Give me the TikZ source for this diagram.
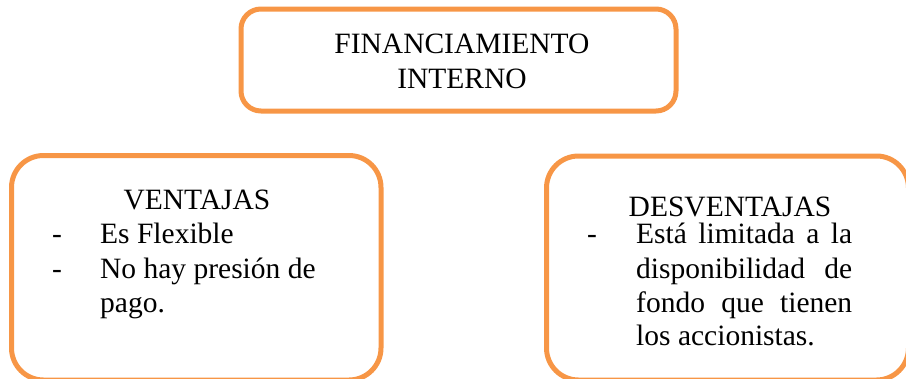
\documentclass[tikz,border=0pt]{standalone}
\usepackage{fontspec}
\setmainfont{Liberation Serif}
\definecolor{boxorange}{HTML}{F79646}
\begin{document}
\begin{tikzpicture}
  [x=1pt,y=-1pt,
   every node/.style={font=\fontsize{29.5}{34}\selectfont},
   box/.style={draw=boxorange,line width=5pt,rectangle,inner sep=0pt},
   txt/.style={inner sep=0pt,anchor=base west},
   head/.style={inner sep=0pt,anchor=base}]
  \useasboundingbox (0,0) rectangle (906,378);

  % boxes
  \node[box,rounded corners=20pt,minimum width=435pt,minimum height=102pt] (top) at (458.5,60) {};
  \node[box,rounded corners=32pt,minimum width=369.5pt,minimum height=224.5pt] (ventajas) at (196.25,267.75) {};
  \node[box,rounded corners=32pt,minimum width=362pt,minimum height=224pt] (desventajas) at (727.5,268) {};

  % title
  \node[head] (t1) at (462,53) {FINANCIAMIENTO};
  \node[head] (t2) at (462,88) {INTERNO};

  % ventajas
  \node[head] (vh) at (197,209) {VENTAJAS};
  \node[txt] (vd1) at (52,243) {-};
  \node[txt] (v1) at (100,243) {Es Flexible};
  \node[txt] (vd2) at (52,278) {-};
  \node[txt] (v2) at (100,278) {No hay presión de};
  \node[txt] (v3) at (100,312) {pago.};

  % desventajas
  \node[head] (dh) at (730,216) {DESVENTAJAS};
  \node[txt] (dd1) at (587,243) {-};
  \node[txt] (d1) at (636,243) {\makebox[216pt][s]{Está limitada a la}};
  \node[txt] (d2) at (636,278) {\makebox[216pt][s]{disponibilidad de}};
  \node[txt] (d3) at (636,312) {\makebox[216pt][s]{fondo que tienen}};
  \node[txt] (d4) at (636,345) {los accionistas.};

\end{tikzpicture}
\end{document}
